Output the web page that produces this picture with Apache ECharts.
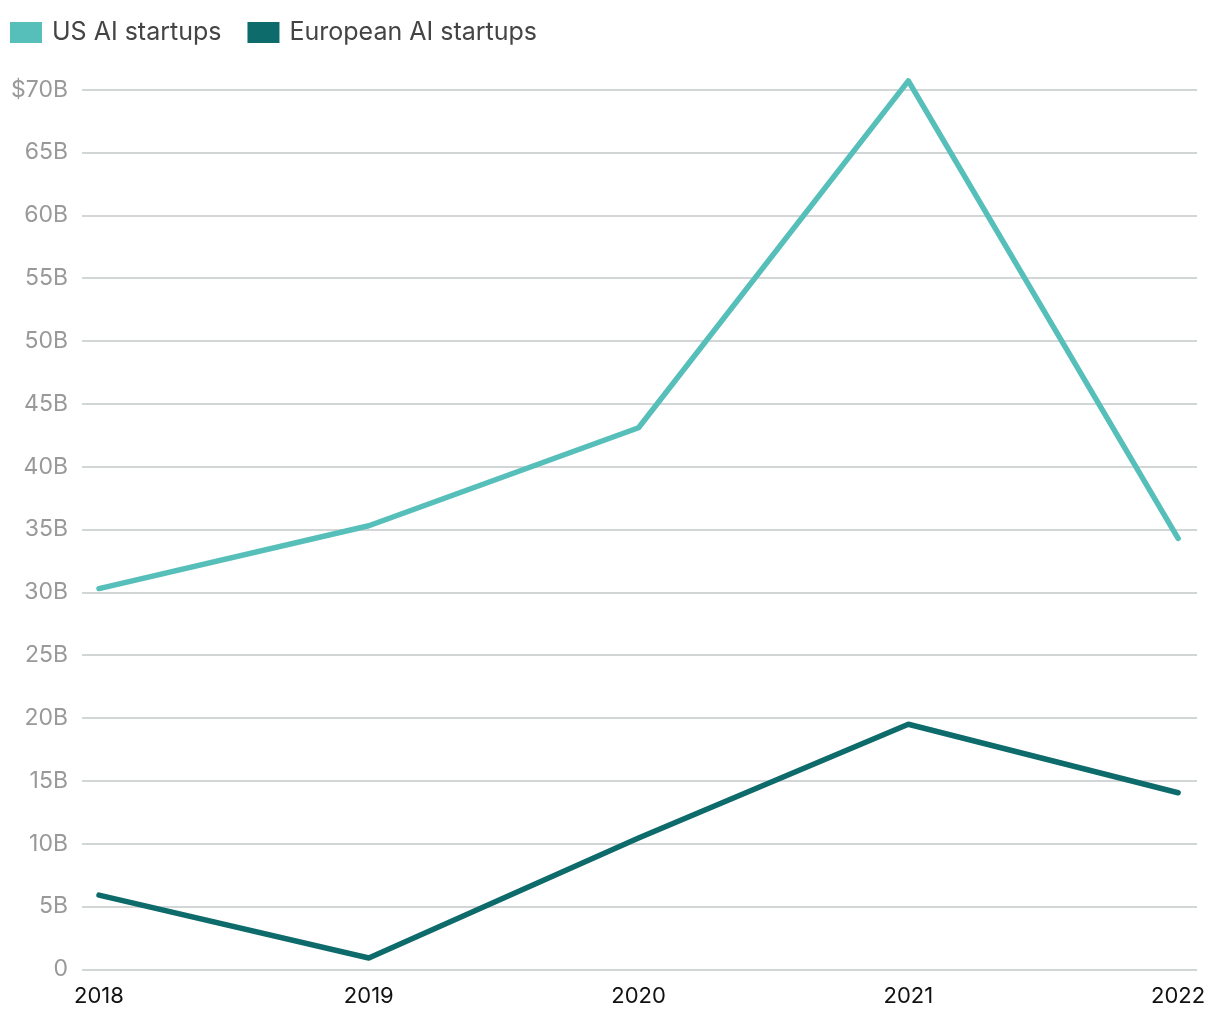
<!DOCTYPE html>
<html>
<head>
<meta charset="utf-8">
<script src="https://cdn.jsdelivr.net/npm/echarts@6/dist/echarts.min.js"></script>
<style>html,body{margin:0;padding:0;background:#fff}#c{width:1220px;height:1020px}</style>
</head>
<body>
<div id="c"></div>
<script>
const years = [2018, 2019, 2020, 2021, 2022];
const usValues = [30.3, 35.3, 43.1, 70.7, 34.3];
const euValues = [5.9, 0.9, 10.45, 19.5, 14.05];
const seriesNames = ['US AI startups', 'European AI startups'];
const yTicks = [0, 5, 10, 15, 20, 25, 30, 35, 40, 45, 50, 55, 60, 65, 70];

const chart = echarts.init(document.getElementById('c'));
const pair = (vals) => years.map((y, i) => [y, vals[i]]);
chart.setOption({
  animation: false,
  textStyle: { fontFamily: 'Inter' },
  legend: {
    left: 10, top: 20, padding: 0,
    icon: 'rect', itemWidth: 32, itemHeight: 21, itemGap: 26,
    textStyle: { fontSize: 25, color: '#444', fontFamily: 'Inter', padding: [0, 0, 0, 5] },
    data: seriesNames
  },
  grid: { left: 82, right: 23, top: 89.7, bottom: 50.7, containLabel: false },
  xAxis: {
    type: 'value', min: 2017.937, max: 2022.07,
    axisLine: { show: false }, axisTick: { show: false }, splitLine: { show: false },
    axisLabel: {
      customValues: years, margin: 16, color: '#111', fontSize: 22, fontFamily: 'Inter',
      formatter: (v) => String(Math.round(v))
    }
  },
  yAxis: {
    type: 'value', min: 0, max: 70, interval: 5,
    axisLine: { show: false }, axisTick: { show: false },
    splitLine: { show: true, lineStyle: { color: '#d3d6d6', width: 2 } },
    axisLabel: {
      margin: 14, color: '#999', fontSize: 23, fontFamily: 'Inter',
      formatter: (v) => v === 0 ? '0' : (v === 70 ? '$70B' : v + 'B')
    }
  },
  series: [
    { name: seriesNames[0], type: 'line', data: pair(usValues), symbol: 'none', clip: false,
      itemStyle: { color: '#57bfb9' }, lineStyle: { color: '#57bfb9', width: 5.5, cap: 'round', join: 'round' } },
    { name: seriesNames[1], type: 'line', data: pair(euValues), symbol: 'none', clip: false,
      itemStyle: { color: '#0e6b6b' }, lineStyle: { color: '#0e6b6b', width: 5.5, cap: 'round', join: 'round' } }
  ]
});
</script>
</body>
</html>
